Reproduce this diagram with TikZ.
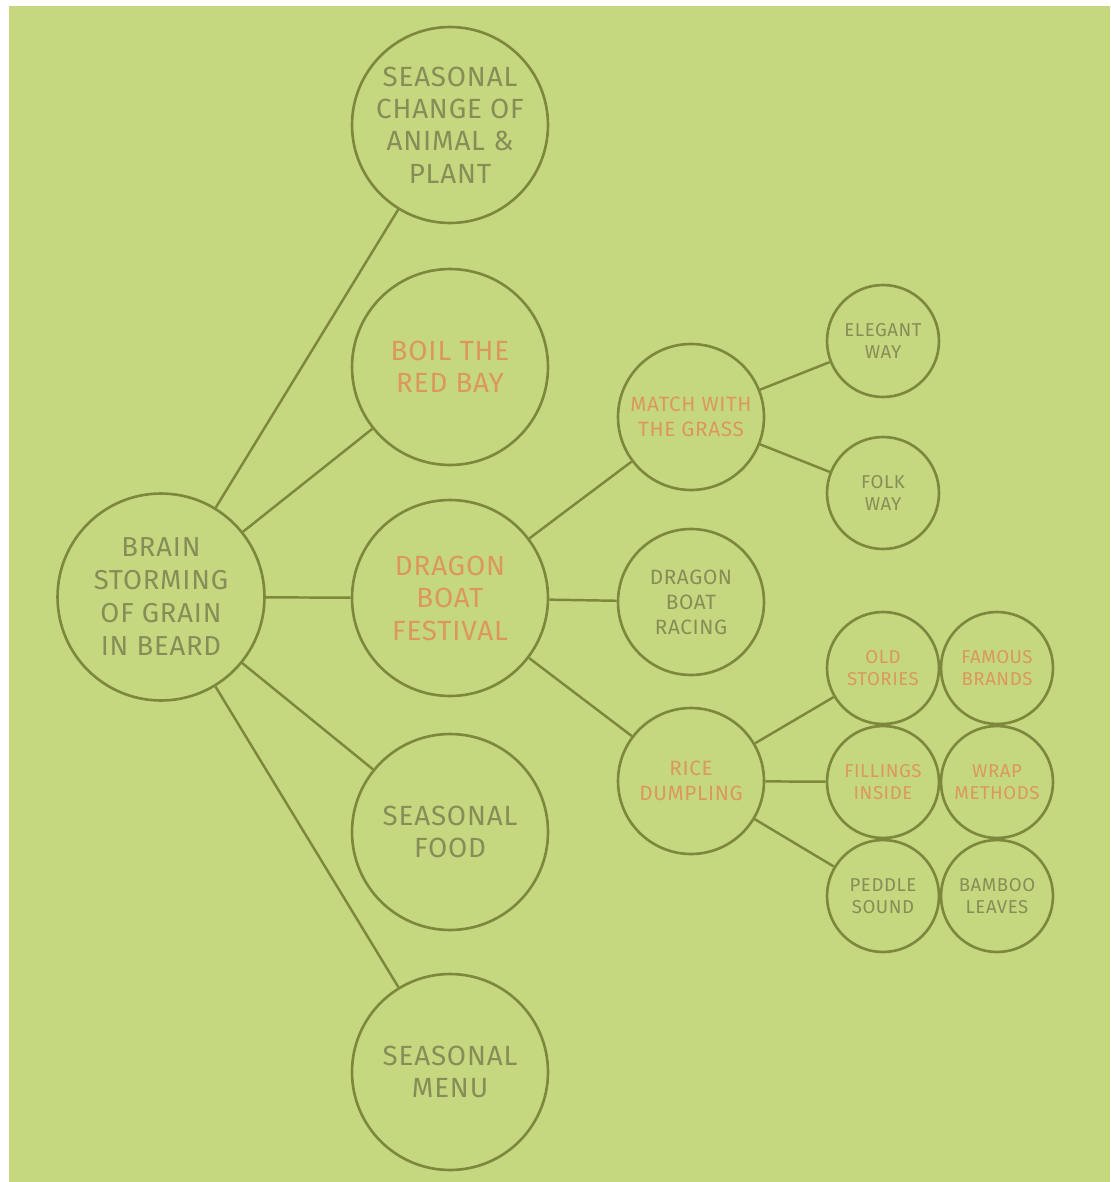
\documentclass[tikz,border=0pt]{standalone}
\usepackage{fontspec}
\setmainfont[LetterSpace=3]{Fira Sans}
\definecolor{leafbg}{RGB}{197,216,128}
\definecolor{olive}{RGB}{126,136,60}
\definecolor{greytxt}{RGB}{132,142,86}
\definecolor{redtxt}{RGB}{220,152,92}

\begin{document}
\begin{tikzpicture}[x=0.02cm,y=-0.02cm,
        bub/.style={circle,draw=olive,line width=1.5pt,align=center,inner sep=0pt,text=greytxt},
        hot/.style={text=redtxt},
        rootbub/.style={bub,minimum size=4.14cm,font=\fontsize{15.6}{18.8}\selectfont},
        topic/.style={bub,minimum size=3.92cm,font=\fontsize{15.8}{18.4}\selectfont,text depth=-8pt},
        sub/.style={bub,minimum size=2.92cm,font=\fontsize{11.8}{14.2}\selectfont},
        leaf/.style={bub,minimum size=2.24cm,font=\fontsize{10.6}{12.5}\selectfont},
        link/.style={draw=olive,line width=1.4pt}]
    \useasboundingbox (0,0) rectangle (1110,1182);
    \fill[white] (0,0) rectangle (1110,1182);
    \fill[leafbg] (9,6) rectangle (1110,1182);

    \node[rootbub] (brain) at (161,597) {BRAIN\\STORMING\\OF GRAIN\\IN BEARD};

    \node[topic] (change) at (450,125) {SEASONAL\\CHANGE OF\\ANIMAL \&\\PLANT};
    \node[topic,hot] (boil) at (450,367) {BOIL THE\\RED BAY};
    \node[topic,hot] (festival) at (450,598) {DRAGON\\BOAT\\FESTIVAL};
    \node[topic] (food) at (450,832) {SEASONAL\\FOOD};
    \node[topic] (menu) at (450,1072) {SEASONAL\\MENU};

    \node[sub,hot] (grass) at (691,417) {MATCH WITH\\THE GRASS};
    \node[sub] (racing) at (691,602) {DRAGON\\BOAT\\RACING};
    \node[sub,hot] (dumpling) at (691,781) {RICE\\DUMPLING};

    \node[leaf] (elegant) at (883,341) {ELEGANT\\WAY};
    \node[leaf] (folk) at (883,493) {FOLK\\WAY};
    \node[leaf,hot] (stories) at (883,668) {OLD\\STORIES};
    \node[leaf,hot] (brands) at (997,668) {FAMOUS\\BRANDS};
    \node[leaf,hot] (fillings) at (883,782) {FILLINGS\\INSIDE};
    \node[leaf,hot] (wrap) at (997,782) {WRAP\\METHODS};
    \node[leaf] (peddle) at (883,896) {PEDDLE\\SOUND};
    \node[leaf] (bamboo) at (997,896) {BAMBOO\\LEAVES};

    \foreach \t in {change,boil,festival,food,menu}
        \draw[link] (brain) -- (\t);
    \foreach \t in {grass,racing,dumpling}
        \draw[link] (festival) -- (\t);
    \draw[link] (grass) -- (elegant);
    \draw[link] (grass) -- (folk);
    \foreach \t in {stories,fillings,peddle}
        \draw[link] (dumpling) -- (\t);
\end{tikzpicture}
\end{document}
